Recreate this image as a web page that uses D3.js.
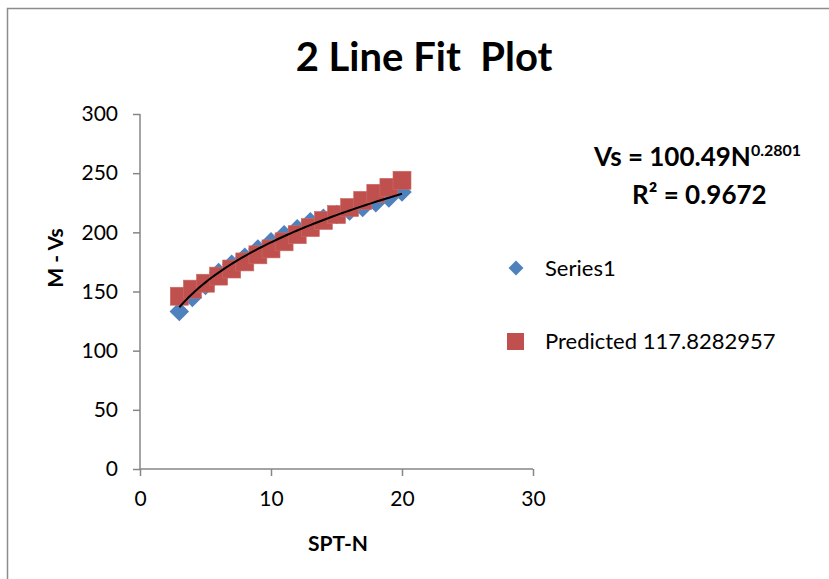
<!DOCTYPE html>
<html>
<head>
<meta charset="utf-8">
<script src="https://cdn.jsdelivr.net/npm/d3@7"></script>
<style>
  body { margin: 0; background: #fff; }
  text { font-family: Lato, "Open Sans", sans-serif; fill: #000; }
</style>
</head>
<body>
<div id="chart"></div>
<script>
// data
const sptN = [3, 4, 5, 6, 7, 8, 9, 10, 11, 12, 13, 14, 15, 16, 17, 18, 19, 20];
const series1 = [133, 145, 155, 166, 173, 179, 186, 192, 198, 203, 209, 212, 215, 218, 221, 225, 229, 234];
const predicted = [146, 152, 157, 163, 169, 175, 181, 186, 192, 198, 204, 210, 215, 221, 227, 233, 238, 244];
const xTicks = [0, 10, 20, 30];
const yTicks = [0, 50, 100, 150, 200, 250, 300];
// power trendline coefficients as printed on the chart
const trendCoef = [100.49, 0.2801];
const legendNames = ["Series1", "Predicted 117.8282957"];

const W = 829, H = 579;
const svg = d3.select("#chart").append("svg")
    .attr("width", W)
    .attr("height", H);

// chart frame
svg.append("rect")
    .attr("x", 7.5).attr("y", 8.5)
    .attr("width", 900).attr("height", 700)
    .attr("fill", "none")
    .attr("stroke", "#8c8c8c")
    .attr("stroke-width", 1.5);

const x = d3.scaleLinear().domain([0, 30]).range([140, 533]);
const y = d3.scaleLinear().domain([0, 300]).range([469, 114]);

// axes
const yAxis = svg.append("g")
    .attr("transform", "translate(140,0)")
    .call(d3.axisLeft(y).tickValues(yTicks).tickSize(7).tickPadding(15));
const xAxis = svg.append("g")
    .attr("transform", "translate(0,469)")
    .call(d3.axisBottom(x).tickValues(xTicks).tickSize(7).tickPadding(15));

[xAxis, yAxis].forEach(a => {
    a.selectAll("path, line").attr("stroke", "#868686").attr("stroke-width", 1.5);
    a.select(".domain").attr("d", a === xAxis ? "M140,0H533" : "M0,469V114");
    a.selectAll("text").attr("font-size", 21).attr("font-family", "Lato, sans-serif").attr("fill", "#000");
});

// series markers
const diamond = d3.symbol().type(d3.symbolSquare).size(190);
svg.append("g").selectAll("path")
    .data(sptN)
    .enter().append("path")
    .attr("d", diamond)
    .attr("transform", (d, i) => `translate(${x(d)},${y(series1[i])}) rotate(45)`)
    .attr("fill", "#4F81BD");

svg.append("g").selectAll("rect")
    .data(sptN)
    .enter().append("rect")
    .attr("x", d => x(d) - 9)
    .attr("y", (d, i) => y(predicted[i]) - 9)
    .attr("width", 18).attr("height", 18)
    .attr("fill", "#C0504D")
    .attr("stroke", "#c96b68")
    .attr("stroke-width", 0.6);

// power trendline from the printed equation
const trendX = d3.range(3, 20.01, 0.25);
svg.append("path")
    .datum(trendX)
    .attr("fill", "none")
    .attr("stroke", "#000")
    .attr("stroke-width", 2)
    .attr("d", d3.line()
        .x(d => x(d))
        .y(d => y(trendCoef[0] * Math.pow(d, trendCoef[1]))));

// title
svg.append("text")
    .attr("x", 424).attr("y", 71)
    .attr("text-anchor", "middle")
    .attr("font-size", 40).attr("font-weight", "bold")
    .attr("xml:space", "preserve")
    .text("2 Line Fit  Plot");

// axis titles
svg.append("text")
    .attr("x", 338).attr("y", 551)
    .attr("text-anchor", "middle")
    .attr("font-size", 21).attr("font-weight", "bold")
    .text("SPT-N");
svg.append("text")
    .attr("transform", "translate(63,258) rotate(-90)")
    .attr("text-anchor", "middle")
    .attr("font-size", 21).attr("font-weight", "bold")
    .text("M - Vs");

// equation
const eq = svg.append("text")
    .attr("x", 594).attr("y", 166)
    .attr("font-size", 26).attr("font-weight", "bold");
eq.append("tspan").text("Vs = " + trendCoef[0] + "N");
eq.append("tspan").attr("font-size", 16).attr("dy", -10).text(trendCoef[1]);
svg.append("text")
    .attr("x", 632).attr("y", 204)
    .attr("font-size", 26).attr("font-weight", "bold")
    .text("R² = 0.9672");

// legend
svg.append("path")
    .attr("d", d3.symbol().type(d3.symbolSquare).size(110))
    .attr("transform", "translate(516,268) rotate(45)")
    .attr("fill", "#4F81BD");
svg.append("rect")
    .attr("x", 507).attr("y", 333)
    .attr("width", 17).attr("height", 17)
    .attr("fill", "#C0504D");
svg.append("text").attr("x", 545).attr("y", 276)
    .attr("font-size", 22).text(legendNames[0]);
svg.append("text").attr("x", 545).attr("y", 349)
    .attr("font-size", 22).text(legendNames[1]);
</script>
</body>
</html>
